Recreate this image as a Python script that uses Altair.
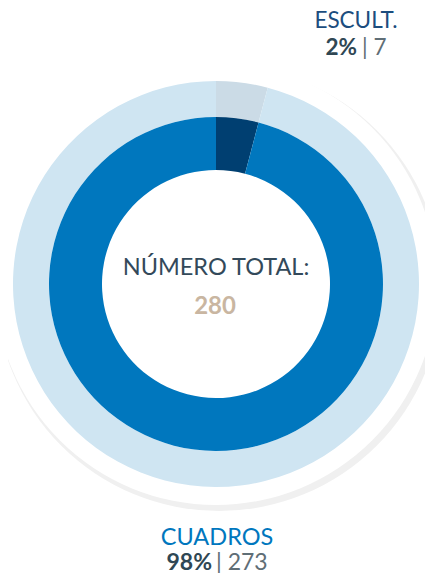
import altair as alt
import pandas as pd

# ---- data ----
categories = ["ESCULT.", "CUADROS"]
counts = [7, 273]
percent_labels = ["2%", "98%"]
arc_share = [4.1, 95.9]          # angular share of each slice as drawn
center_title = "NÚMERO TOTAL:"
total_label = "280"

inner_colors = ["#003f71", "#0077be"]
outer_colors = ["#cbdbe6", "#cfe5f2"]

W, H = 417, 565
CX, CY = 208, 276

df = pd.DataFrame({"cat": categories, "share": arc_share, "ord": [0, 1]})
one = pd.DataFrame({"k": [0]})

shadow = alt.Chart(one).mark_arc(radius=223, theta=0, theta2=6.2832, color="#f0f0f0").encode(
    x=alt.value(CX + 3), y=alt.value(CY + 4))
disk = alt.Chart(one).mark_arc(radius=221, theta=0, theta2=6.2832, color="#ffffff").encode(
    x=alt.value(CX), y=alt.value(CY))

base = alt.Chart(df).encode(
    theta=alt.Theta("share:Q", stack=True),
    order=alt.Order("ord:Q"),
    x=alt.value(CX), y=alt.value(CY),
)
outer = base.mark_arc(radius=203, radius2=167).encode(
    color=alt.Color("cat:N", scale=alt.Scale(domain=categories, range=outer_colors), legend=None))
inner = base.mark_arc(radius=167, radius2=114).encode(
    color=alt.Color("cat:N", scale=alt.Scale(domain=categories, range=inner_colors), legend=None))

FONT = "Lato"

def txt(s, x, y, size, color, align="center", weight="normal"):
    return alt.Chart(pd.DataFrame({"t": [s]})).mark_text(
        font=FONT, fontSize=size, color=color, align=align, baseline="alphabetic", fontWeight=weight
    ).encode(text="t:N", x=alt.value(x), y=alt.value(y))

labels = [
    txt(categories[0], 348, 20, 22.5, "#1c4d7e"),
    txt(percent_labels[0], 349, 47, 22.5, "#2f4754", align="right", weight="bold"),
    txt(f"| {counts[0]}", 354, 47, 22.5, "#5f6e76", align="left"),
    txt(categories[1], 209, 537, 23.5, "#0077be"),
    txt(percent_labels[1], 204, 562, 23, "#2f4754", align="right", weight="bold"),
    txt(f"| {counts[1]}", 208, 562, 23, "#5f6e76", align="left"),
    txt(center_title, 208, 267, 23.5, "#33495a"),
    txt(total_label, 207, 306, 24, "#c9b6a1", weight="bold"),
]

chart = alt.layer(shadow, disk, outer, inner, *labels).resolve_scale(color="independent").properties(
    width=W, height=H, autosize=alt.AutoSizeParams(type="none"), padding=0, background="#ffffff"
).configure_view(stroke=None)

chart.save("out.html", embed_options={"renderer": "svg", "actions": False})
